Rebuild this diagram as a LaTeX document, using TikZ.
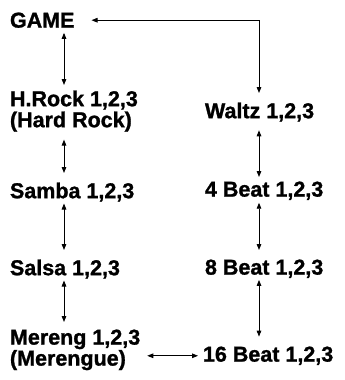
\documentclass[tikz,border=0pt]{standalone}
\usepackage{fontspec}
\setmainfont{Liberation Sans}[BoldFeatures={FakeBold=1.2}]
\usetikzlibrary{arrows.meta,calc}
\begin{document}
\begin{tikzpicture}[x=1pt,y=-1pt,
  lbl/.style={anchor=north west,inner sep=0pt,outer sep=0pt,align=left,
    font=\fontsize{21.5}{21}\selectfont\bfseries},
  conn/.style={line width=0.9pt,{Triangle[length=6pt,width=4.6pt]}-{Triangle[length=6pt,width=4.6pt]}}]
\useasboundingbox (0,0) rectangle (345,380);
\coordinate (cl) at (64,0);
\coordinate (cr) at (259,0);
\node[lbl] (game) at (10,12.6) {GAME};
\node[lbl] (hrock) at (10,90.6) {H.Rock 1,2,3\\(Hard Rock)};
\node[lbl] (samba) at (10,182.6) {Samba 1,2,3};
\node[lbl] (salsa) at (10,259.6) {Salsa 1,2,3};
\node[lbl] (mereng) at (10,329.6) {Mereng 1,2,3\\(Merengue)};
\node[lbl] (waltz) at (205,102.6) {Waltz 1,2,3};
\node[lbl] (fourb) at (205,181.6) {4 Beat 1,2,3};
\node[lbl] (eightb) at (205,259.6) {8 Beat 1,2,3};
\node[lbl] (sixteen) at (203,346.6) {16 Beat 1,2,3};
% left column
\draw[conn,shorten <=5pt,shorten >=5.6pt] (game.south -| cl) -- (hrock.north -| cl);
\draw[conn,shorten <=8pt,shorten >=9.6pt] (hrock.south -| cl) -- (samba.north -| cl);
\draw[conn,shorten <=2pt,shorten >=9.6pt] (samba.south -| cl) -- (salsa.north -| cl);
\draw[conn,shorten <=2pt,shorten >=7.6pt] (salsa.south -| cl) -- (mereng.north -| cl);
% right column
\draw[conn,shorten <=17pt,shorten >=9.6pt] (game.east) -| (waltz.north -| cr);
\draw[conn,shorten <=8.8pt,shorten >=4.6pt] (waltz.south -| cr) -- (fourb.north -| cr);
\draw[conn,shorten <=2.8pt,shorten >=9.6pt] (fourb.south -| cr) -- (eightb.north -| cr);
\draw[conn,shorten <=2pt,shorten >=10pt] (eightb.south -| cr) -- (sixteen.north -| cr);
% bottom link
\draw[conn,shorten <=7pt,shorten >=5pt] (sixteen.west -| mereng.east) -- (sixteen.west);
\end{tikzpicture}
\end{document}
